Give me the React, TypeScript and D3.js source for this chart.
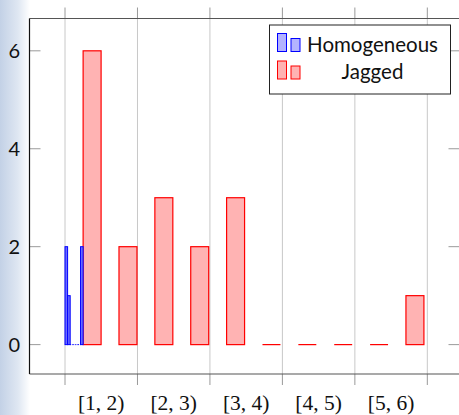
import React from "react";
import * as d3 from "d3";

const binLabels = ["[1,\u20052)", "[2,\u20053)", "[3,\u20054)", "[4,\u20055)", "[5,\u20056)"];
const labelPositions = [1.5, 2.5, 3.5, 4.5, 5.5];
const gridPositions = [1, 2, 3, 4, 5, 6];
const yTicks = [0, 2, 4, 6];

// Jagged series: bar left edges (data units) and counts
const jaggedStarts = [1.25, 1.745, 2.24, 2.735, 3.23, 3.725, 4.22, 4.715, 5.21, 5.705];
const jaggedValues = [6, 2, 3, 2, 3, 0, 0, 0, 0, 1];

// Homogeneous series: fine bins near 1
const homoStarts = [1, 1.0357, 1.0714, 1.1071, 1.1429, 1.1786, 1.2143];
const homoValues = [2, 1, 0, 0, 0, 0, 2];

const legendLabels = ["Homogeneous", "Jagged"];

const W = 459;
const H = 415;
const left = 29.5, right = 459.5, top = 18.5, bottom = 374;

export default function App() {
  const x = d3.scaleLinear().domain([0.51, 6.444]).range([left, right]);
  const y = d3.scaleLinear().domain([-0.6, 6.66]).range([bottom, top]);
  const jagW = 0.248;
  const homoW = 0.25 / 7;
  const sans = "Lato, 'DejaVu Sans', sans-serif";
  const serif = "'Liberation Serif', 'DejaVu Serif', serif";

  return (
    <svg width={W} height={H} style={{ position: "absolute", left: 0, top: 0 }} xmlns="http://www.w3.org/2000/svg">
      <defs>
        <linearGradient id="bg" x1="0" x2="1" y1="0" y2="0">
          <stop offset="0" stopColor="#c3d1e6" />
          <stop offset="0.6" stopColor="#dfe7f2" />
          <stop offset="1" stopColor="#ffffff" />
        </linearGradient>
      </defs>
      <rect x={0} y={0} width={W} height={H} fill="#fff" />
      <rect x={0} y={0} width={30} height={H} fill="url(#bg)" />
      <rect x={left} y={top} width={right - left} height={bottom - top} fill="#fff" />

      {/* grid and x ticks */}
      {gridPositions.map((g) => (
        <g key={g}>
          <line x1={x(g)} x2={x(g)} y1={top} y2={bottom} stroke="#c8c8c8" strokeWidth={1} />
          <line x1={x(g)} x2={x(g)} y1={top - 11} y2={top} stroke="#9a9a9a" strokeWidth={1} />
          <line x1={x(g)} x2={x(g)} y1={bottom} y2={bottom + 11} stroke="#9a9a9a" strokeWidth={1} />
        </g>
      ))}

      {/* y ticks */}
      {yTicks.map((t) => (
        <g key={t}>
          <line x1={left} x2={left + 11} y1={y(t)} y2={y(t)} stroke="#9a9a9a" strokeWidth={1} />
          <line x1={right - 11} x2={right} y1={y(t)} y2={y(t)} stroke="#9a9a9a" strokeWidth={1} />
          <text x={20} y={y(t)} dy="0.35em" textAnchor="end" fontFamily={sans} fontSize={20} fill="#111">
            {t}
          </text>
        </g>
      ))}

      {/* Jagged bars */}
      {jaggedStarts.map((s, i) => {
        const x0 = x(s), x1 = x(s + jagW);
        const v = jaggedValues[i];
        return v > 0 ? (
          <rect key={i} x={x0} y={y(v)} width={x1 - x0} height={y(0) - y(v)} fill="#ffb3b3" stroke="#ff0000" strokeWidth={1.2} />
        ) : (
          <line key={i} x1={x0} x2={x1} y1={y(0)} y2={y(0)} stroke="#ff0000" strokeWidth={1.2} />
        );
      })}

      {/* Homogeneous bars */}
      {homoStarts.map((s, i) => {
        const x0 = x(s), x1 = x(s + homoW);
        const v = homoValues[i];
        return v > 0 ? (
          <rect key={i} x={x0} y={y(v)} width={x1 - x0} height={y(0) - y(v)} fill="#6b6bff" stroke="#0000ff" strokeWidth={1} />
        ) : (
          <line key={i} x1={x0} x2={x1} y1={y(0)} y2={y(0)} stroke="#0000ff" strokeWidth={1} strokeDasharray="1 1" />
        );
      })}

      {/* frame */}
      <line x1={left} x2={right} y1={top} y2={top} stroke="#555" strokeWidth={1} />
      <line x1={left} x2={right} y1={bottom} y2={bottom} stroke="#555" strokeWidth={1.2} />
      <line x1={left} x2={left} y1={top} y2={bottom} stroke="#111" strokeWidth={1.2} />
      <line x1={right} x2={right} y1={top} y2={bottom} stroke="#555" strokeWidth={1} />

      {/* x labels */}
      {binLabels.map((l, i) => (
        <text key={l} x={x(labelPositions[i])} y={410} textAnchor="middle" fontFamily={serif} fontSize={21.5} fill="#111">
          {l}
        </text>
      ))}

      {/* legend */}
      <rect x={269.5} y={25} width={181} height={69} fill="#fff" stroke="#222" strokeWidth={1} />
      {legendLabels.map((l, i) => {
        const stroke = i === 0 ? "#0000ff" : "#ff0000";
        const fill = i === 0 ? "#b3b3ff" : "#ffb3b3";
        const base = i === 0 ? 51.5 : 79;
        return (
          <g key={l}>
            <rect x={277.5} y={base - 18} width={9} height={18} fill={fill} stroke={stroke} strokeWidth={1} />
            <rect x={291} y={base - 13} width={9} height={13} fill={fill} stroke={stroke} strokeWidth={1} />
            <text x={372.5} y={base} textAnchor="middle" fontFamily={sans} fontSize={20.5} fill="#111">
              {l}
            </text>
          </g>
        );
      })}
    </svg>
  );
}
